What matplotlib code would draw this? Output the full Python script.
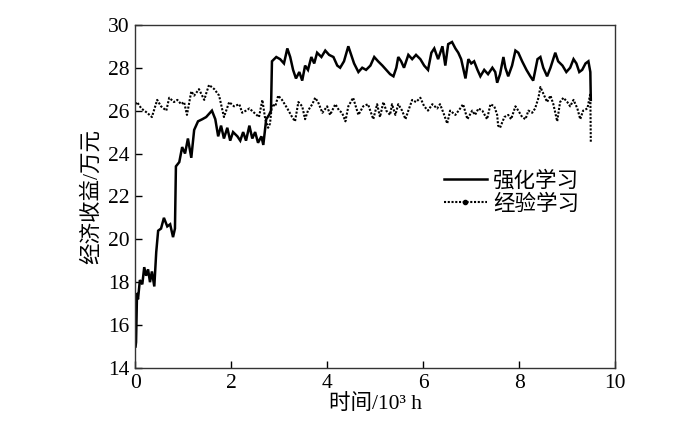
import matplotlib
matplotlib.use("Agg")
import matplotlib.pyplot as plt
from matplotlib.lines import Line2D

plt.rcParams['font.family'] = ['Liberation Serif', 'Noto Sans CJK SC']

rl_x = [0.01, 0.02, 0.04, 0.06, 0.10, 0.15, 0.19, 0.23, 0.27, 0.31, 0.35, 0.40, 0.44, 0.48,
        0.54, 0.60, 0.67, 0.73, 0.79, 0.83, 0.85, 0.92, 0.98, 1.04, 1.10, 1.17, 1.23, 1.31,
        1.40, 1.48, 1.56, 1.60, 1.67, 1.73, 1.79, 1.85, 1.92, 1.98, 2.04, 2.13, 2.19, 2.25,
        2.31, 2.38, 2.44, 2.50, 2.56, 2.63, 2.67, 2.73, 2.79, 2.83, 2.85, 2.94, 3.02, 3.10,
        3.17, 3.23, 3.29, 3.35, 3.42, 3.48, 3.54, 3.60, 3.67, 3.73, 3.79, 3.88, 3.96, 4.04,
        4.13, 4.21, 4.27, 4.35, 4.44, 4.50, 4.56, 4.65, 4.73, 4.81, 4.90, 4.98, 5.06, 5.15,
        5.23, 5.31, 5.38, 5.44, 5.48, 5.54, 5.60, 5.69, 5.77, 5.85, 5.94, 6.02, 6.10, 6.17,
        6.23, 6.31, 6.40, 6.46, 6.52, 6.60, 6.67, 6.73, 6.79, 6.88, 6.94, 7.00, 7.06, 7.13,
        7.19, 7.27, 7.35, 7.44, 7.50, 7.54, 7.60, 7.67, 7.71, 7.77, 7.85, 7.92, 7.98, 8.06,
        8.15, 8.23, 8.29, 8.38, 8.44, 8.50, 8.58, 8.65, 8.75, 8.81, 8.90, 8.98, 9.06, 9.13,
        9.19, 9.25, 9.31, 9.38, 9.44, 9.48, 9.49]
rl_y = [15.0, 15.2, 17.5, 17.2, 18.1, 17.9, 18.7, 18.3, 18.6, 18.0, 18.5, 17.8, 19.4, 20.4,
        20.5, 21.0, 20.6, 20.7, 20.1, 20.5, 23.4, 23.6, 24.3, 24.0, 24.7, 23.8, 25.1, 25.5,
        25.6, 25.7, 25.9, 26.0, 25.6, 24.8, 25.3, 24.7, 25.2, 24.6, 25.0, 24.8, 24.6, 25.0,
        24.6, 25.3, 24.7, 25.0, 24.5, 24.8, 24.4, 25.6, 25.8, 26.0, 28.3, 28.5, 28.4, 28.2,
        28.9, 28.5, 27.9, 27.5, 27.8, 27.4, 28.1, 27.9, 28.5, 28.2, 28.7, 28.5, 28.8, 28.6,
        28.5, 28.1, 28.0, 28.3, 29.0, 28.6, 28.2, 27.8, 28.0, 27.9, 28.1, 28.5, 28.3, 28.1,
        27.9, 27.7, 27.6, 28.0, 28.5, 28.3, 28.0, 28.6, 28.4, 28.6, 28.4, 28.1, 27.9, 28.7,
        28.9, 28.4, 29.0, 28.1, 29.1, 29.2, 28.9, 28.7, 28.4, 27.5, 28.4, 28.2, 28.3, 27.9,
        27.6, 27.9, 27.7, 28.0, 27.8, 27.3, 27.7, 28.5, 28.0, 27.6, 28.1, 28.8, 28.7, 28.3,
        27.9, 27.6, 27.4, 28.4, 28.5, 28.0, 27.6, 28.0, 28.7, 28.3, 28.1, 27.8, 28.0, 28.4,
        28.2, 27.8, 27.9, 28.2, 28.3, 27.8, 26.5]

el_x = [0.01, 0.04, 0.13, 0.25, 0.35, 0.46, 0.54, 0.65, 0.71, 0.81, 0.88, 0.96, 1.02, 1.08,
        1.17, 1.23, 1.33, 1.44, 1.48, 1.54, 1.65, 1.75, 1.85, 1.96, 2.06, 2.17, 2.23, 2.31,
        2.38, 2.48, 2.58, 2.65, 2.71, 2.77, 2.81, 2.85, 2.92, 2.98, 3.06, 3.17, 3.27, 3.33,
        3.40, 3.48, 3.54, 3.60, 3.69, 3.75, 3.81, 3.90, 4.00, 4.06, 4.17, 4.25, 4.31, 4.38,
        4.44, 4.54, 4.65, 4.75, 4.85, 4.96, 5.04, 5.10, 5.17, 5.23, 5.31, 5.35, 5.42, 5.48,
        5.56, 5.63, 5.69, 5.77, 5.85, 5.94, 6.02, 6.10, 6.19, 6.29, 6.35, 6.42, 6.50, 6.56,
        6.67, 6.77, 6.83, 6.92, 7.02, 7.08, 7.15, 7.23, 7.33, 7.40, 7.48, 7.54, 7.56, 7.60,
        7.69, 7.77, 7.83, 7.92, 7.98, 8.06, 8.13, 8.19, 8.27, 8.33, 8.40, 8.44, 8.50, 8.58,
        8.65, 8.71, 8.79, 8.85, 8.92, 9.00, 9.06, 9.13, 9.21, 9.27, 9.33, 9.42, 9.48, 9.49]
el_y = [26.3, 26.4, 26.1, 25.9, 25.7, 26.5, 26.2, 26.0, 26.6, 26.4, 26.5, 26.3, 26.4, 25.8,
        26.9, 26.7, 27.0, 26.5, 26.8, 27.2, 27.0, 26.7, 25.7, 26.4, 26.2, 26.3, 25.9, 26.0,
        26.1, 25.9, 25.7, 26.5, 25.6, 25.2, 25.4, 26.3, 26.2, 26.7, 26.5, 26.1, 25.7, 25.5,
        26.4, 26.2, 25.6, 26.0, 26.3, 26.6, 26.4, 25.9, 26.2, 25.8, 26.3, 26.0, 25.9, 25.5,
        26.2, 26.6, 25.8, 26.2, 26.3, 25.6, 26.3, 25.7, 26.4, 26.0, 25.8, 26.3, 25.8, 26.3,
        26.0, 25.6, 26.0, 26.5, 26.4, 26.6, 26.2, 26.0, 26.3, 26.1, 26.3, 25.9, 25.4, 26.0,
        25.8, 26.1, 26.3, 25.6, 26.0, 25.8, 26.1, 26.0, 25.6, 26.3, 26.2, 25.8, 25.3, 25.2,
        25.7, 25.8, 25.6, 26.2, 26.0, 25.7, 25.6, 26.0, 25.9, 26.1, 26.6, 27.1, 26.8, 26.4,
        26.7, 26.3, 25.5, 26.4, 26.6, 26.4, 26.2, 26.5, 26.1, 25.6, 26.0, 26.1, 26.8, 24.5]

x_ticks = [0, 2, 4, 6, 8, 10]
y_ticks = [14, 16, 18, 20, 22, 24, 26, 28, 30]
series_labels = ['强化学习', '经验学习']

fig = plt.figure(figsize=(7.0, 4.21), dpi=100)
ax = fig.add_axes([0.193, 0.126, 0.686, 0.815])

ax.plot(rl_x, rl_y, color='black', lw=1.8, solid_joinstyle='miter')
ax.plot(el_x, el_y, color='black', lw=1.5, ls=(0, (1.0, 0.8)))

ax.set_xlim(0, 10)
ax.set_ylim(14, 30)
ax.set_xticks(x_ticks)
ax.set_yticks(y_ticks)
ax.tick_params(direction='in', length=5, width=1, labelsize=15.5, top=False, right=False,
               pad=4)
for s in ax.spines.values():
    s.set_linewidth(1.0)
    s.set_color('#333333')

ax.set_xlabel('时间/10³ h', fontsize=15.5, labelpad=1)
ax.set_ylabel('经济收益/万元', fontsize=15.5, labelpad=4)

handles = [Line2D([], [], color='black', lw=1.8),
           Line2D([], [], color='black', lw=1.5, ls=(0, (1.0, 0.8)), marker='o', ms=3)]
ax.legend(handles, series_labels, loc='upper left', bbox_to_anchor=(0.625, 0.60),
          frameon=False, fontsize=15.5, handlelength=2.0, handletextpad=0.3,
          labelspacing=0.15, numpoints=1, borderaxespad=0)

fig.savefig('out.png', dpi=100)
